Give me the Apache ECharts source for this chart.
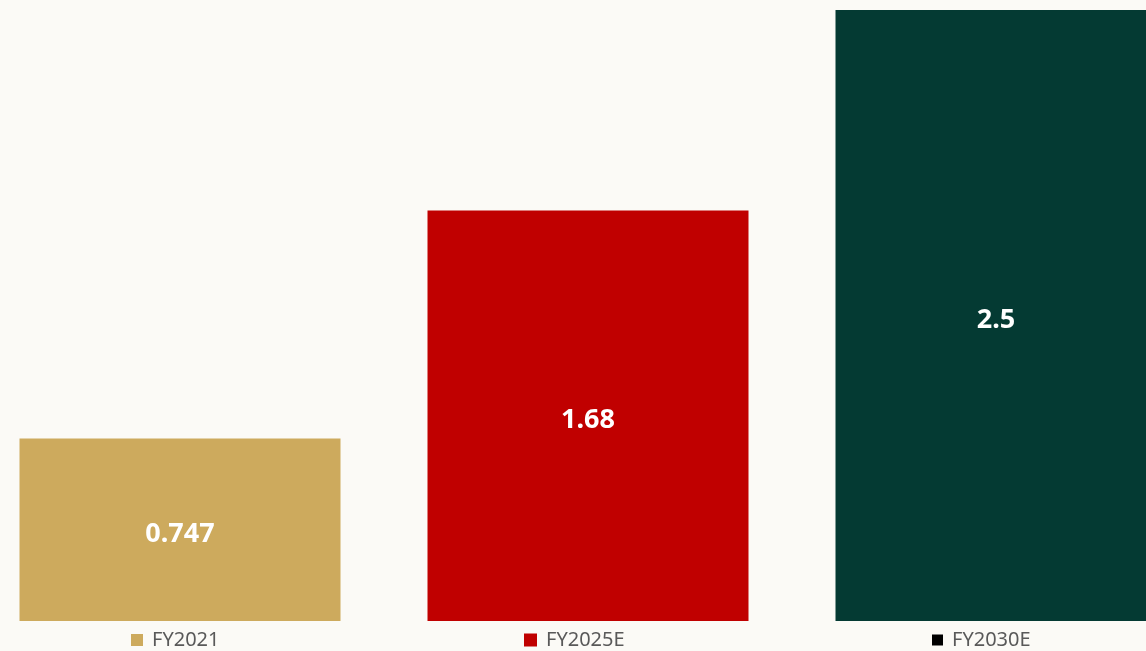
<!DOCTYPE html>
<html>
<head>
<meta charset="utf-8">
<style>
  html, body { margin: 0; padding: 0; background: #FBFAF6; overflow: hidden; width: 1146px; height: 651px; }
  #chart { width: 1224px; height: 651px; margin-left: -24px; }
</style>
<script src="https://cdn.jsdelivr.net/npm/echarts@6/dist/echarts.min.js"></script>
</head>
<body>
<div id="chart"></div>
<script>
const categories = ['FY2021', 'FY2025E', 'FY2030E'];
const seriesValues = [0.747, 1.68, 2.5];
const barColors = ['#CDAA5D', '#C00000', '#043A33'];
const legendIconColors = ['#CDAA5D', '#C00000', '#000000'];

const chart = echarts.init(document.getElementById('chart'));

const series = categories.map((name, i) => ({
  name: name,
  type: 'bar',
  barWidth: 321,
  barGap: '-100%',
  data: categories.map((c, j) => (j === i ? seriesValues[i] : null)),
  itemStyle: { color: barColors[i] },
  label: {
    show: true,
    position: 'inside',
    offset: [0, 5],
    color: '#FFFFFF',
    fontFamily: 'Noto Sans',
    fontWeight: 'bold',
    fontSize: 27
  },
  emphasis: { disabled: true },
  animation: false
}));

// offsets include the 24px shift of the chart container
const legendLefts = [155, 548, 956];
const legendIcon = [12, 13, 11];
const legends = categories.map((name, i) => ({
  show: true,
  left: legendLefts[i],
  top: 630,
  padding: 0,
  icon: 'rect',
  itemWidth: legendIcon[i],
  itemHeight: legendIcon[i],
  selectedMode: false,
  data: [{ name: name, itemStyle: { color: legendIconColors[i] } }],
  textStyle: {
    fontFamily: 'Noto Sans',
    fontSize: 20,
    color: '#595959',
    padding: [0, 0, 0, 4]
  }
}));

chart.setOption({
  backgroundColor: '#FBFAF6',
  animation: false,
  grid: { left: 0, right: 0, top: 10, bottom: 30, containLabel: false },
  legend: legends,
  xAxis: {
    type: 'category',
    data: categories,
    show: false
  },
  yAxis: {
    type: 'value',
    min: 0,
    max: 2.5,
    show: false,
    splitLine: { show: false }
  },
  series: series
});
</script>
</body>
</html>
